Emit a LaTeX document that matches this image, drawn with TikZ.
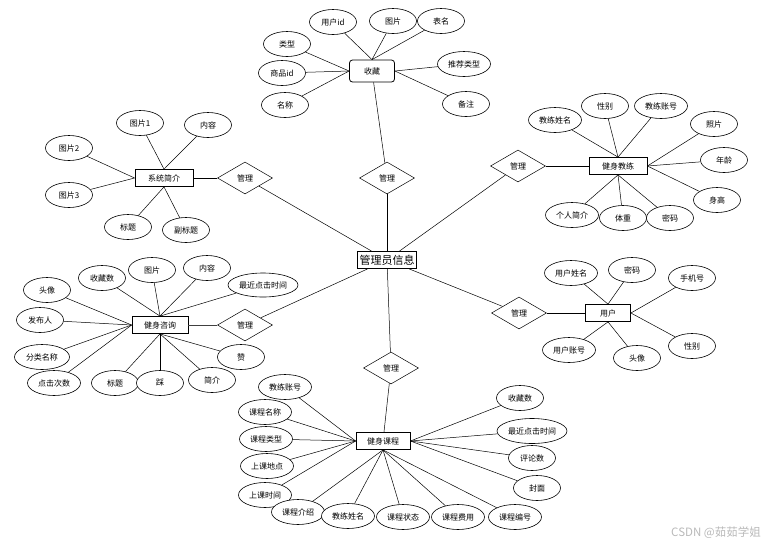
\documentclass[tikz,border=0pt]{standalone}
\usepackage{fontspec}
\setmainfont{Noto Sans CJK SC}
\usepackage{xcolor}
\usepackage{tikz}
\usetikzlibrary{shapes.geometric}

\begin{document}
\begin{tikzpicture}[
  x=1pt, y=-1pt,
  font=\fontsize{8}{9}\selectfont,
  % Node styles
  entity/.style={rectangle, draw=black, line width=0.8pt, fill=white, inner sep=2pt, minimum width=56pt, minimum height=17pt},
  hub/.style={rectangle, draw=black, line width=0.8pt, fill=white, inner sep=2pt, minimum width=58pt, minimum height=17pt, font=\fontsize{11}{12}\selectfont},
  attr/.style={ellipse, draw=black, line width=0.6pt, fill=white, inner sep=0pt, minimum width=47pt, minimum height=25pt},
  wide/.style={attr, minimum width=53pt},
  rel/.style={diamond, draw=black, line width=0.5pt, fill=white, inner sep=0pt, minimum width=55pt, minimum height=32pt},
  link/.style={draw=black, line width=0.5pt},
  wmark/.style={font=\fontsize{11.5}{12}\selectfont, text=gray!55}
]
  \useasboundingbox (0,0) rectangle (777,547);

  % ============================================
  % Center: admin and its relations
  % ============================================
  \node[hub] (admin) at (387,260) {管理员信息};

  \node[rel] (rfav) at (387,178) {管理};
  \node[rel] (rintro) at (245,178) {管理};
  \node[rel] (radv) at (245,325) {管理};
  \node[rel] (rcourse) at (391,368) {管理};
  \node[rel] (rcoach) at (518,166) {管理};
  \node[rel] (ruser) at (519,313) {管理};

  % ============================================
  % Entities
  % ============================================
  \node[entity, rounded corners=3pt, minimum width=45pt, minimum height=22pt] (favor) at (372,71) {收藏};
  \node[entity, minimum width=58pt] (intro) at (164,178) {系统简介};
  \node[entity, minimum width=58pt] (coach) at (618,166) {健身教练};
  \node[entity] (advice) at (160,325) {健身咨询};
  \node[entity, minimum width=45pt] (user) at (608,313) {用户};
  \node[entity, minimum width=54pt] (course) at (383,441) {健身课程};

  % ============================================
  % Attributes: favourites
  % ============================================
  \node[attr] (favUid) at (333,22) {用户id};
  \node[attr] (favPic) at (393,21) {图片};
  \node[attr] (favTab) at (441,21) {表名};
  \node[attr] (favType) at (287,44) {类型};
  \node[attr] (favGid) at (282,73) {商品id};
  \node[attr] (favName) at (285,105) {名称};
  \node[wide] (favRec) at (464,64) {推荐类型};
  \node[attr] (favNote) at (466,104) {备注};

  % Attributes: system intro
  \node[attr] (inPic1) at (140,123) {图片1};
  \node[attr] (inText) at (208,125) {内容};
  \node[attr] (inPic2) at (69,148) {图片2};
  \node[attr] (inPic3) at (69,195) {图片3};
  \node[attr] (inTitle) at (128,227) {标题};
  \node[attr] (inSub) at (186,230) {副标题};

  % Attributes: coach
  \node[wide] (coName) at (555,120) {教练姓名};
  \node[attr] (coSex) at (605,106) {性别};
  \node[wide] (coAcc) at (661,106) {教练账号};
  \node[attr] (coPhoto) at (714,124) {照片};
  \node[attr] (coAge) at (724,160) {年龄};
  \node[attr] (coHeight) at (717,200) {身高};
  \node[wide] (coBio) at (572,215) {个人简介};
  \node[attr] (coWeight) at (623,218) {体重};
  \node[attr] (coPwd) at (670,218) {密码};

  % Attributes: fitness advice
  \node[attr] (adAvatar) at (47,290) {头像};
  \node[attr] (adFav) at (102,278) {收藏数};
  \node[attr] (adPic) at (152,270) {图片};
  \node[attr] (adText) at (207,268) {内容};
  \node[attr, minimum width=70pt, minimum height=24pt] (adLast) at (263,285) {最近点击时间};
  \node[attr] (adAuthor) at (40,320) {发布人};
  \node[wide, minimum width=55pt] (adCat) at (42,357) {分类名称};
  \node[wide] (adClicks) at (54,383) {点击次数};
  \node[attr] (adTitle) at (115,383) {标题};
  \node[attr] (adDown) at (160,383) {踩};
  \node[attr] (adBrief) at (212,380) {简介};
  \node[attr] (adUp) at (241,357) {赞};

  % Attributes: user
  \node[wide] (usName) at (571,273) {用户姓名};
  \node[attr] (usPwd) at (632,270) {密码};
  \node[attr] (usPhone) at (692,278) {手机号};
  \node[wide] (usAcc) at (569,350) {用户账号};
  \node[attr] (usAvatar) at (637,358) {头像};
  \node[attr] (usSex) at (692,346) {性别};

  % Attributes: fitness course
  \node[wide] (cuCoachAcc) at (285,387) {教练账号};
  \node[wide] (cuName) at (265,412) {课程名称};
  \node[wide] (cuType) at (266,439) {课程类型};
  \node[wide] (cuPlace) at (267,466) {上课地点};
  \node[wide] (cuTime) at (265,495) {上课时间};
  \node[wide] (cuDesc) at (298,512) {课程介绍};
  \node[wide] (cuCoach) at (348,516) {教练姓名};
  \node[wide] (cuState) at (403,517) {课程状态};
  \node[wide] (cuFee) at (458,517) {课程费用};
  \node[wide] (cuNo) at (515,517) {课程编号};
  \node[attr] (cuFav) at (520,398) {收藏数};
  \node[attr, minimum width=70pt] (cuLast) at (532,431) {最近点击时间};
  \node[attr] (cuComm) at (532,458) {评论数};
  \node[attr] (cuCover) at (537,488) {封面};

  % ============================================
  % Edges: admin -- relations -- entities
  % ============================================
  \draw[link] (admin) -- (rfav);
  \draw[link] (rfav) -- (favor);
  \draw[link] (admin) -- (rintro);
  \draw[link] (rintro) -- (intro);
  \draw[link] (admin) -- (radv);
  \draw[link, line width=1pt, color=black!75] (radv) -- (advice);
  \draw[link] (admin) -- (rcourse);
  \draw[link] (rcourse) -- (course);
  \draw[link] (admin) -- (rcoach);
  \draw[link] (rcoach) -- (coach);
  \draw[link] (admin) -- (ruser);
  \draw[link] (ruser) -- (user);

  % ============================================
  % Edges: entities -- attributes
  % ============================================
  % favourites
  \draw[link] (favor.north) -- (favUid);
  \draw[link] (favor.north) -- (favPic);
  \draw[link] (favor.north) -- (favTab);
  \draw[link] (favor.west) -- (favType);
  \draw[link] (favor.west) -- (favGid);
  \draw[link] (favor.west) -- (favName);
  \draw[link] (favor.east) -- (favRec);
  \draw[link] (favor.east) -- (favNote);

  % system intro
  \draw[link] (intro.north) -- (inPic1);
  \draw[link] (intro.north) -- (inText);
  \draw[link] (intro.west) -- (inPic2);
  \draw[link] (intro.west) -- (inPic3);
  \draw[link] (intro.south) -- (inTitle);
  \draw[link] (intro.south) -- (inSub);

  % coach
  \draw[link] (coach.north) -- (coName);
  \draw[link] (coach.north) -- (coSex);
  \draw[link] (coach.north) -- (coAcc);
  \draw[link] (coach.east) -- (coPhoto);
  \draw[link] (coach.east) -- (coAge);
  \draw[link] (coach.east) -- (coHeight);
  \draw[link] (coach.south) -- (coBio);
  \draw[link] (coach.south) -- (coWeight);
  \draw[link] (coach.south) -- (coPwd);

  % fitness advice
  \draw[link] (advice.west) -- (adAvatar);
  \draw[link] (advice.west) -- (adAuthor);
  \draw[link] (advice.west) -- (adCat);
  \draw[link] (advice.west) -- (adClicks);
  \draw[link] (advice.north) -- (adFav);
  \draw[link] (advice.north) -- (adPic);
  \draw[link] (advice.north) -- (adText);
  \draw[link] (advice.north) -- (adLast);
  \draw[link] (advice.south) -- (adTitle);
  \draw[link] (advice.south) -- (adDown);
  \draw[link] (advice.south) -- (adBrief);
  \draw[link] (advice.south) -- (adUp);

  % user
  \draw[link] (user.north) -- (usName);
  \draw[link] (user.north) -- (usPwd);
  \draw[link] (user.east) -- (usPhone);
  \draw[link] (user.east) -- (usSex);
  \draw[link] (user.south) -- (usAcc);
  \draw[link] (user.south) -- (usAvatar);

  % fitness course
  \draw[link] (course.west) -- (cuCoachAcc);
  \draw[link] (course.west) -- (cuName);
  \draw[link] (course.west) -- (cuType);
  \draw[link] (course.west) -- (cuPlace);
  \draw[link] (course.west) -- (cuTime);
  \draw[link] (course.south) -- (cuDesc);
  \draw[link] (course.south) -- (cuCoach);
  \draw[link] (course.south) -- (cuState);
  \draw[link] (course.south) -- (cuFee);
  \draw[link] (course.south) -- (cuNo);
  \draw[link] (course.east) -- (cuFav);
  \draw[link] (course.east) -- (cuLast);
  \draw[link] (course.east) -- (cuComm);
  \draw[link] (course.east) -- (cuCover);

  % watermark
  \node[wmark] (wm) at (716,533) {CSDN @茹茹学姐};

\end{tikzpicture}
\end{document}
